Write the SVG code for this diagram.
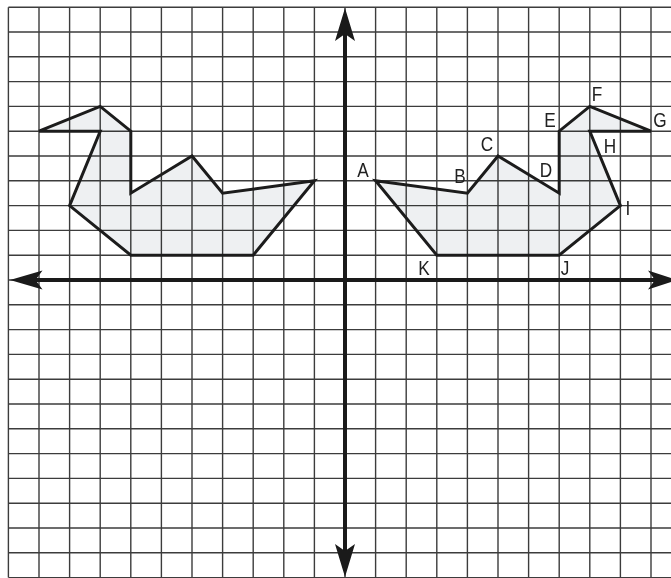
<svg xmlns="http://www.w3.org/2000/svg" width="671" height="578" viewBox="0 0 671 578">
<style>
.grid{fill:none;stroke:#3c3c3c;stroke-width:1.4}
.shape{fill:#eef0f2;mix-blend-mode:multiply}
.outline{fill:none;stroke:#1c1c1c;stroke-width:3;stroke-linejoin:miter}
.axis{fill:none;stroke:#1a1a1a;stroke-width:4}
.head{fill:#1a1a1a}
.lbl{font-family:"Liberation Sans",Arial,sans-serif;font-size:21px;fill:#222;text-anchor:middle}
</style>
<rect x="0" y="0" width="671" height="578" fill="#ffffff"/>
<g id="grid">
<path class="grid" d="M8.4 7.2V577.6M39 7.2V577.6M69.6 7.2V577.6M100.2 7.2V577.6M130.8 7.2V577.6M161.4 7.2V577.6M192 7.2V577.6M222.6 7.2V577.6M253.2 7.2V577.6M283.8 7.2V577.6M314.4 7.2V577.6M345 7.2V577.6M375.6 7.2V577.6M406.2 7.2V577.6M436.8 7.2V577.6M467.4 7.2V577.6M498 7.2V577.6M528.6 7.2V577.6M559.2 7.2V577.6M589.8 7.2V577.6M620.4 7.2V577.6M651 7.2V577.6"/>
<path class="grid" d="M8.4 7.2H671M8.4 32H671M8.4 56.8H671M8.4 81.6H671M8.4 106.4H671M8.4 131.2H671M8.4 156H671M8.4 180.8H671M8.4 205.6H671M8.4 230.4H671M8.4 255.2H671M8.4 280H671M8.4 304.8H671M8.4 329.6H671M8.4 354.4H671M8.4 379.2H671M8.4 404H671M8.4 428.8H671M8.4 453.6H671M8.4 478.4H671M8.4 503.2H671M8.4 528H671M8.4 552.8H671M8.4 577.6H671"/>
</g>
<g id="left-duck">
<polygon class="shape" points="314.4,180.8 222.6,193.2 192,156 130.8,193.2 130.8,131.2 100.2,106.4 39,131.2 100.2,131.2 69.6,205.6 130.8,255.2 253.2,255.2"/>
<polygon class="outline" points="314.4,180.8 222.6,193.2 192,156 130.8,193.2 130.8,131.2 100.2,106.4 39,131.2 100.2,131.2 69.6,205.6 130.8,255.2 253.2,255.2"/>
</g>
<g id="right-duck">
<polygon class="shape" points="375.6,180.8 467.4,193.2 498,156 559.2,193.2 559.2,131.2 589.8,106.4 651,131.2 589.8,131.2 620.4,205.6 559.2,255.2 436.8,255.2"/>
<polygon class="outline" points="375.6,180.8 467.4,193.2 498,156 559.2,193.2 559.2,131.2 589.8,106.4 651,131.2 589.8,131.2 620.4,205.6 559.2,255.2 436.8,255.2"/>
</g>
<g id="axes">
<line class="axis" x1="345" y1="32" x2="345" y2="552"/>
<line class="axis" x1="34" y1="280" x2="656" y2="280"/>
<polygon class="head" points="345,8 355,41 345,34 335,41"/>
<polygon class="head" points="345,577 355,544 345,551 335,544"/>
<polygon class="head" points="10,280 42.5,270.5 35.5,280 42.5,289.5"/>
<polygon class="head" points="677,280 648,270.5 655,280 648,289.5"/>
</g>
<g id="labels">
<text class="lbl" transform="translate(363,177) scale(0.82,1)">A</text>
<text class="lbl" transform="translate(460,183) scale(0.82,1)">B</text>
<text class="lbl" transform="translate(487,151) scale(0.82,1)">C</text>
<text class="lbl" transform="translate(546,177) scale(0.82,1)">D</text>
<text class="lbl" transform="translate(550,127) scale(0.82,1)">E</text>
<text class="lbl" transform="translate(597,101) scale(0.82,1)">F</text>
<text class="lbl" transform="translate(660,127) scale(0.82,1)">G</text>
<text class="lbl" transform="translate(610,153) scale(0.82,1)">H</text>
<text class="lbl" transform="translate(628,215) scale(0.82,1)">I</text>
<text class="lbl" transform="translate(565,275) scale(0.82,1)">J</text>
<text class="lbl" transform="translate(424,275) scale(0.82,1)">K</text>
</g>
</svg>
